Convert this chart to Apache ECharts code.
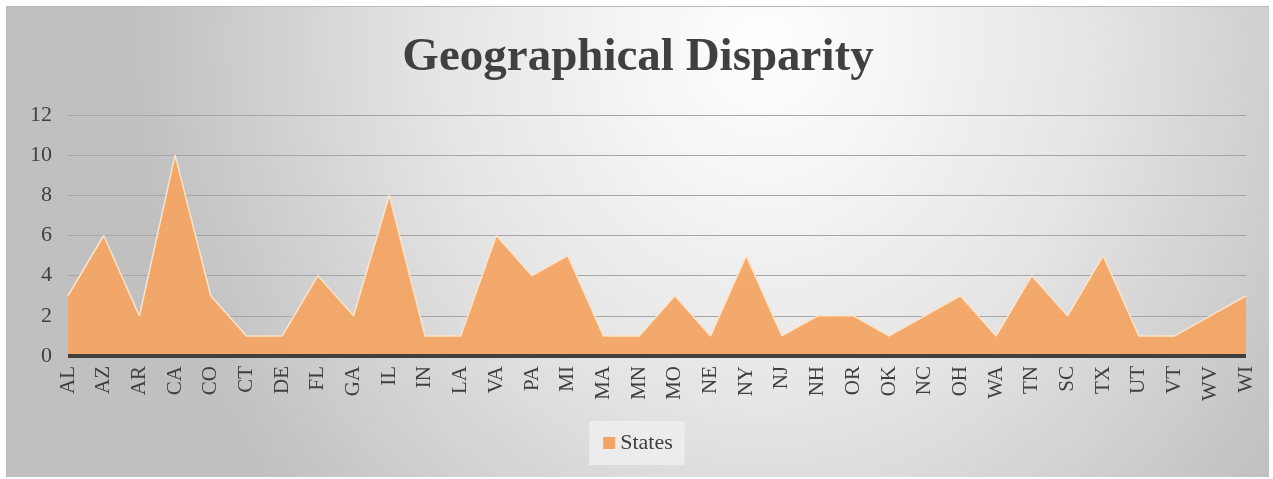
<!DOCTYPE html>
<html>
<head>
<meta charset="utf-8">
<script src="https://cdn.jsdelivr.net/npm/echarts@6/dist/echarts.min.js"></script>
<style>
    body { margin: 0; background: #ffffff; }
    #chart {
        position: absolute; left: 6px; top: 6px; width: 1262px; height: 470px;
        border-top: 1px solid #bcbcbc; border-left: 1px solid #bcbcbc;
        background: radial-gradient(ellipse 50% 150% at 60% 8%, #ffffff 0%, #e6e6e6 50%, #c0c0c0 100%);
    }
</style>
</head>
<body>
<div id="chart"></div>
<script>
var states = ['AL', 'AZ', 'AR', 'CA', 'CO', 'CT', 'DE', 'FL', 'GA', 'IL', 'IN', 'LA', 'VA', 'PA', 'MI', 'MA', 'MN', 'MO',
    'NE', 'NY', 'NJ', 'NH', 'OR', 'OK', 'NC', 'OH', 'WA', 'TN', 'SC', 'TX', 'UT', 'VT', 'WV', 'WI']
var counts = [3, 6, 2, 10, 3, 1, 1, 4, 2, 8, 1, 1, 6, 4, 5, 1, 1, 3,
    1, 5, 1, 2, 2, 1, 2, 3, 1, 4, 2, 5, 1, 1, 2, 3]

var serif = '"Liberation Serif", "Times New Roman", serif'

var option = {
    backgroundColor: 'transparent',
    title: {
        text: 'Geographical Disparity',
        left: 'center',
        top: 22,
        textStyle: {fontFamily: serif, fontSize: 47, fontWeight: 'bold', color: '#404040'}
    },
    legend: {
        bottom: 12,
        left: 'center',
        data: [{name: 'States', icon: 'rect'}],
        itemWidth: 12,
        itemHeight: 12,
        itemGap: 6,
        padding: [11, 12, 11, 14],
        backgroundColor: 'rgba(238,238,238,0.85)',
        textStyle: {fontFamily: serif, fontSize: 22, color: '#404040'}
    },
    grid: {left: 61, right: 23, top: 108, bottom: 121},
    xAxis: {
        type: 'category',
        data: states,
        boundaryGap: false,
        z: 5,
        axisLine: {lineStyle: {color: '#404040', width: 4, cap: 'butt'}},
        axisTick: {show: false},
        axisLabel: {
            interval: 0,
            rotate: 90,
            margin: 10,
            fontFamily: serif,
            fontSize: 21,
            color: '#404040'
        }
    },
    yAxis: {
        type: 'value',
        min: 0,
        max: 12,
        interval: 2,
        axisLine: {show: false},
        axisTick: {show: false},
        axisLabel: {fontFamily: serif, fontSize: 22, color: '#404040', margin: 16},
        splitLine: {lineStyle: {color: '#a6a6a6', width: 1}}
    },
    series: [{
        name: 'States',
        type: 'line',
        data: counts,
        symbol: 'none',
        lineStyle: {color: '#fde3c8', width: 1.5},
        itemStyle: {color: '#f4a565'},
        areaStyle: {color: '#f4a565', opacity: 0.95}
    }]
}

var chart = echarts.init(document.getElementById('chart'))
chart.setOption(option)
</script>
</body>
</html>
